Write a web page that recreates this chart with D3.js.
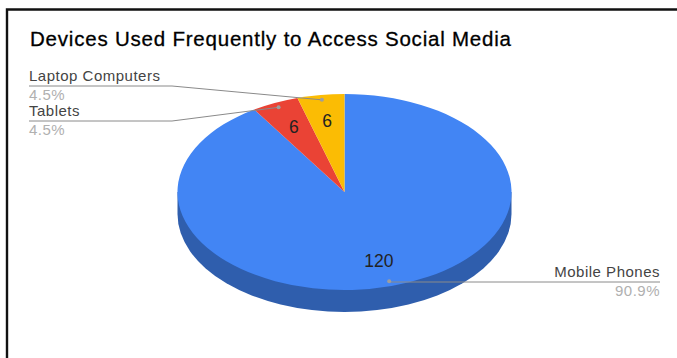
<!DOCTYPE html>
<html><head><meta charset="utf-8">
<script src="https://cdn.jsdelivr.net/npm/d3@7"></script>
<style>html,body{margin:0;padding:0;background:#fff;overflow:hidden}svg{display:block}text{font-family:"Liberation Sans",Arial,sans-serif}</style>
</head><body><svg id="c" width="677" height="358"></svg>
<script>
const categories = ["Mobile Phones","Tablets","Laptop Computers"];
const values = [120,6,6];
const percents = ["90.9%","4.5%","4.5%"];
const colors = ["#4285f4","#ea4335","#fbbc04"];
const titleText = "Devices Used Frequently to Access Social Media";

const W=677,H=358,cx=344.5,cy=192,rx=167,ry=98,depth=22;
const svg=d3.select("#c");
// frame
svg.append("path").attr("d",`M7,${H}V9.5H${W}`).attr("fill","none").attr("stroke","#111").attr("stroke-width",2.4);
svg.append("text").attr("x",30).attr("y",46).attr("font-size",20.5).attr("fill","#000")
  .attr("stroke","#000").attr("stroke-width",0.3).attr("textLength",481).text(titleText);

const pie=d3.pie().sort(null).value(d=>d);
// Clockwise from top: Mobile, Tablets, Laptop
const arcs=pie(values);
const arc=d3.arc().innerRadius(0).outerRadius(rx);
const sy=ry/rx;
const polar=(a,f)=>[cx+Math.sin(a)*rx*f, cy-Math.cos(a)*ry*f];
const mid=d=>(d.startAngle+d.endAngle)/2;

// extruded side
const side=d3.arc().innerRadius(0).outerRadius(rx).startAngle(Math.PI/2).endAngle(Math.PI*1.5)();
svg.append("path").attr("d",side).attr("fill","#2f5ead").attr("transform",`translate(${cx},${cy+depth}) scale(1,${sy})`);
svg.append("rect").attr("x",cx-rx).attr("y",cy).attr("width",2*rx).attr("height",depth).attr("fill","#2f5ead");

svg.append("g").attr("transform",`translate(${cx},${cy}) scale(1,${sy})`)
  .selectAll("path").data(arcs).join("path").attr("d",arc).attr("fill",(d,i)=>colors[i]);

// value labels
svg.append("g").selectAll("text").data(arcs).join("text")
  .attr("x",d=>polar(mid(d),0.73)[0]).attr("y",d=>polar(mid(d),0.73)[1]+6)
  .attr("text-anchor","middle").attr("font-size",17.5).attr("fill","#222").text(d=>d.value);

// leader lines & outside labels
const leaderX=[660,172,172], endX=[660,29,29], lineY=[282,121,86];
const lab=svg.append("g");
arcs.forEach((d,i)=>{
  const p=polar(mid(d),0.95);
  const pts=i===0?[[endX[i],lineY[i]],[p[0],lineY[i]]]:[[endX[i],lineY[i]],[leaderX[i],lineY[i]],p];
  lab.append("path").attr("d",d3.line()(pts)).attr("fill","none").attr("stroke","#8a8a8a").attr("stroke-width",1);
  lab.append("circle").attr("cx",p[0]).attr("cy",p[1]).attr("r",2).attr("fill","#9e9e9e");
  const anchor=i===0?"end":"start";
  lab.append("text").attr("x",endX[i]).attr("y",lineY[i]-5).attr("text-anchor",anchor)
    .attr("font-size",15).attr("fill","#444").attr("letter-spacing",0.5).text(categories[i]);
  lab.append("text").attr("x",endX[i]).attr("y",lineY[i]+14).attr("text-anchor",anchor)
    .attr("font-size",15).attr("fill","#b0b0b0").attr("letter-spacing",0.5).text(percents[i]);
});
</script></body></html>
